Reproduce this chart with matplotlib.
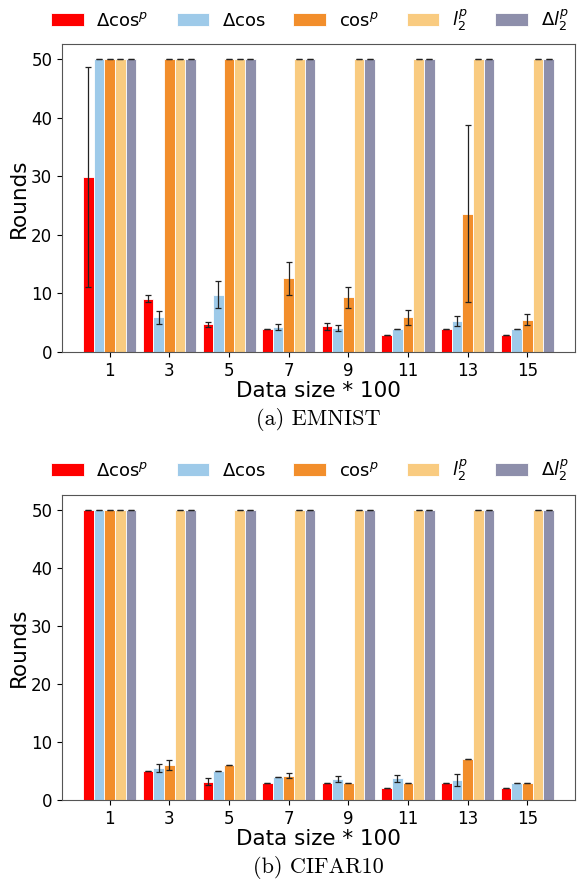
import numpy as np
import matplotlib
matplotlib.use('Agg')
import matplotlib.pyplot as plt

sizes = ['1', '3', '5', '7', '9', '11', '13', '15']
labels = [r'$\Delta\cos^p$', r'$\Delta\cos$', r'$\cos^p$', r'$l_2^p$', r'$\Delta l_2^p$']
colors = ['#ff0000', '#9ecae9', '#f28e2b', '#f9cb80', '#8e8fab']

# EMNIST
em_dcos_p = [29.9, 9.1, 4.7, 3.9, 4.4, 2.9, 3.9, 2.9]
em_dcos_p_err = [18.8, 0.55, 0.5, 0, 0.6, 0, 0, 0]
em_dcos = [50, 5.9, 9.8, 4.3, 4.1, 3.9, 5.3, 3.9]
em_dcos_err = [0, 1.1, 2.3, 0.55, 0.5, 0, 0.9, 0]
em_cos_p = [50, 50, 50, 12.6, 9.3, 5.9, 23.6, 5.5]
em_cos_p_err = [0, 0, 0, 2.8, 1.8, 1.3, 15.1, 0.9]
em_l2_p = [50, 50, 50, 50, 50, 50, 50, 50]
em_l2_p_err = [0, 0, 0, 0, 0, 0, 0, 0]
em_dl2_p = [50, 50, 50, 50, 50, 50, 50, 50]
em_dl2_p_err = [0, 0, 0, 0, 0, 0, 0, 0]

# CIFAR10
cf_dcos_p = [50, 5.0, 3.1, 2.9, 2.9, 2.0, 2.9, 2.0]
cf_dcos_p_err = [0, 0, 0.6, 0, 0, 0, 0, 0]
cf_dcos = [50, 5.5, 5.0, 4.0, 3.6, 3.7, 3.4, 2.9]
cf_dcos_err = [0, 0.65, 0, 0, 0.55, 0.55, 1.0, 0]
cf_cos_p = [50, 6.0, 6.0, 4.2, 2.9, 2.9, 7.0, 2.9]
cf_cos_p_err = [0, 0.9, 0, 0.5, 0, 0, 0, 0]
cf_l2_p = [50, 50, 50, 50, 50, 50, 50, 50]
cf_l2_p_err = [0, 0, 0, 0, 0, 0, 0, 0]
cf_dl2_p = [50, 50, 50, 50, 50, 50, 50, 50]
cf_dl2_p_err = [0, 0, 0, 0, 0, 0, 0, 0]

emnist = [(em_dcos_p, em_dcos_p_err), (em_dcos, em_dcos_err), (em_cos_p, em_cos_p_err),
          (em_l2_p, em_l2_p_err), (em_dl2_p, em_dl2_p_err)]
cifar = [(cf_dcos_p, cf_dcos_p_err), (cf_dcos, cf_dcos_err), (cf_cos_p, cf_cos_p_err),
         (cf_l2_p, cf_l2_p_err), (cf_dl2_p, cf_dl2_p_err)]

fig = plt.figure(figsize=(5.85, 8.81), dpi=100)
ax1 = fig.add_axes([0.106, 0.6005, 0.877, 0.349])
ax2 = fig.add_axes([0.106, 0.092, 0.877, 0.346])

x = np.arange(len(sizes))
w = 0.178


def draw(ax, series, caption, leg_y):
    for i, (vals, errs) in enumerate(series):
        ax.bar(x + (i - 2) * w, vals, w, yerr=errs, color=colors[i], label=labels[i],
               edgecolor='white', linewidth=0.6,
               error_kw=dict(ecolor='#222222', elinewidth=0.9, capsize=2.5, capthick=0.9))
    ax.set_xticks(x)
    ax.set_xticklabels(sizes, fontsize=12)
    ax.tick_params(axis='y', labelsize=12)
    ax.set_xlim(-0.8, 7.8)
    ax.set_yticks([0, 10, 20, 30, 40, 50])
    ax.set_ylabel('Rounds', fontsize=15.5, labelpad=2)
    ax.set_xlabel('Data size * 100', fontsize=15.5, labelpad=1)
    for s in ax.spines.values():
        s.set_color('#555555')
    ax.legend(loc='center left', bbox_to_anchor=(0.06, leg_y), bbox_transform=fig.transFigure,
              ncol=5, frameon=False, fontsize=13, handlelength=1.8, handleheight=0.7,
              columnspacing=1.55, handletextpad=0.7)
    bb = ax.get_position()
    fig.text(0.5 * (bb.x0 + bb.x1), bb.y0 - 68 / 881, caption, fontsize=16,
             family='cmr10', ha='center', va='center')


draw(ax1, emnist, '(a) EMNIST', 1 - 20 / 881)
draw(ax2, cifar, '(b) CIFAR10', 1 - 470 / 881)

fig.savefig('out.png', dpi=100)
